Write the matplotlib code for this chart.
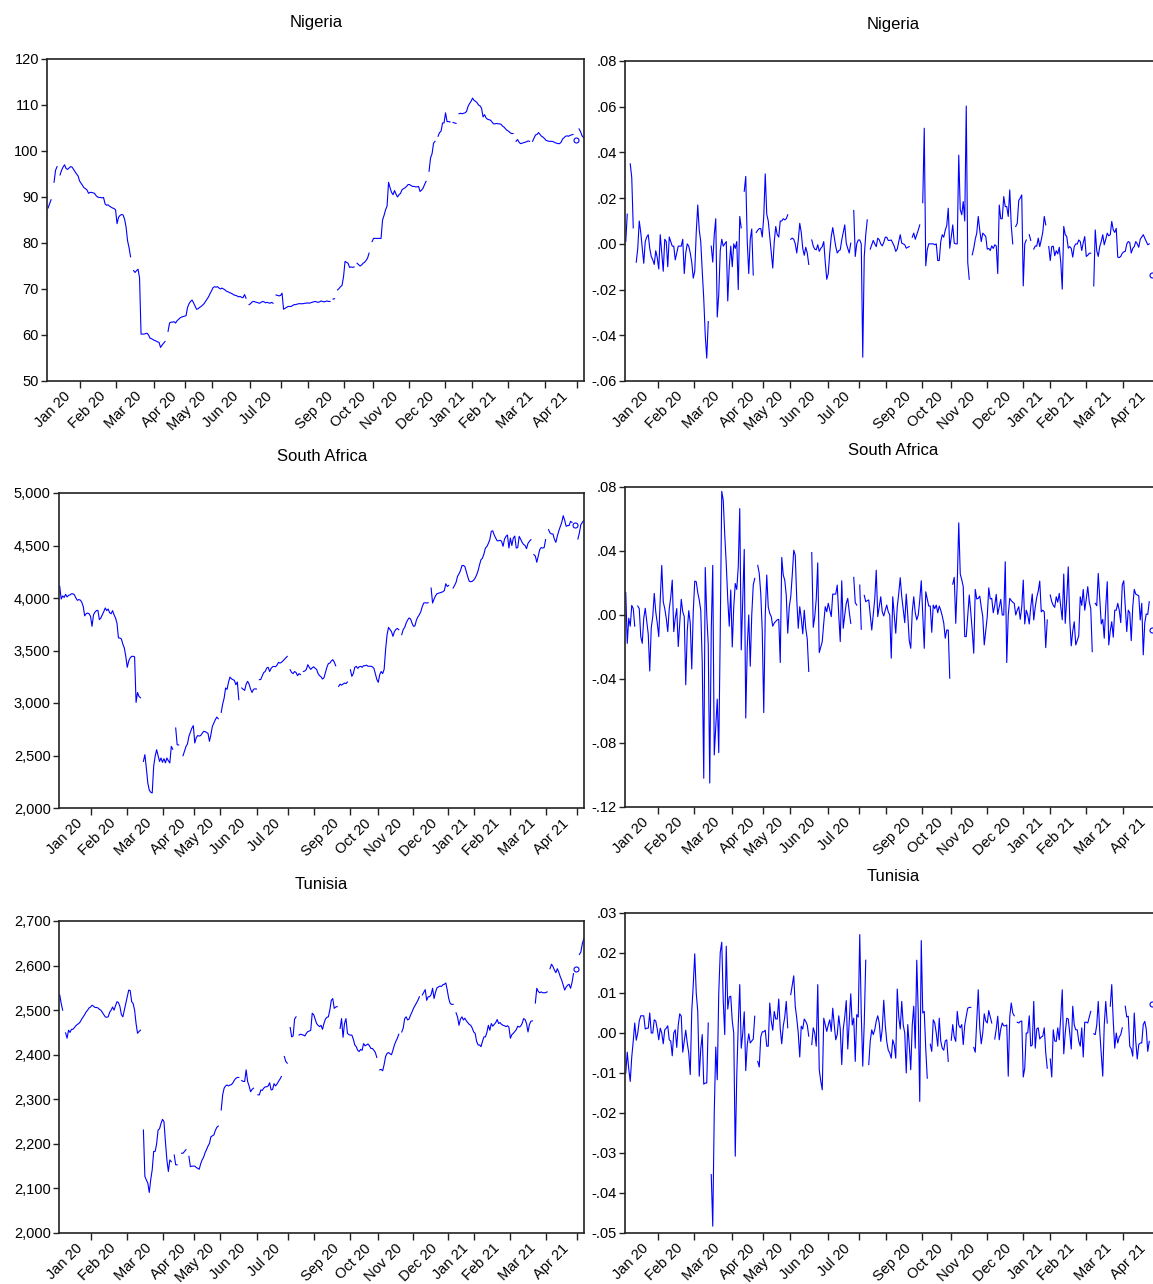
import matplotlib.pyplot as plt
import numpy as np
from matplotlib.ticker import FuncFormatter, MultipleLocator

nan = np.nan

# trading days in each month, Jan 2020 .. May 2021
month_len = [22, 24, 25, 21, 18, 25, 21, 18, 24, 19, 24, 24, 18, 24, 25, 21, 5]
month_lab = ['Jan 20', 'Feb 20', 'Mar 20', 'Apr 20', 'May 20', 'Jun 20', 'Jul 20', '',
             'Sep 20', 'Oct 20', 'Nov 20', 'Dec 20', 'Jan 21', 'Feb 21', 'Mar 21', 'Apr 21', '']

ng_level = [
    87.6, 88.5, 89.4, nan, 93.2, 95.8, 96.6, nan, 94.8, 95.8, 96.5, 97.0, 96.2, 96.0, 96.3, 96.6, 96.5, 96.0, 95.5, 95.0, 94.6, 93.5,
    93.0, 92.5, 92.0, 91.8, 91.5, 90.8, 91.0, 91.0, 90.9, 90.8, 90.3, 90.0, 89.9, 89.9, 89.8, 89.9, 88.5, 88.2, 88.3, 88.0, 87.8, 87.6, 87.5, 87.2,
    84.2, 85.6, 86.0, 86.2, 86.1, 85.2, 83.5, 80.5, 79.0, 77.0, nan, 74.0, 73.6, 74.0, 74.3, 72.4, 60.2, 60.2, 60.2, 60.3, 60.4, 60.0, 59.3, 59.2, 59.0,
    58.8, 58.7, 58.5, 58.4, 57.3, 57.8, 58.2, 58.6, nan, 60.8, 62.6, 62.8, 62.8, 62.9, 62.6, 63.1, 63.4, 63.7, 63.9, 64.0, 64.1,
    64.2, 66.0, 66.8, 67.3, 67.6, 67.0, 66.3, 65.6, 65.7, 66.0, 66.2, 66.5, 66.8, 67.3, 67.8, 68.3, 69.0, 69.6,
    70.3, 70.5, 70.4, 70.5, 70.2, 70.0, 70.2, 70.0, 69.8, 69.5, 69.4, 69.2, 69.1, 68.9, 68.7, 68.6, 68.5, 68.3, 68.4, 68.2, 68.1, 68.8, 68.0, nan, 66.6,
    66.8, 67.2, 67.3, 67.2, 67.1, 67.0, 66.9, 67.1, 67.3, 67.2, 67.0, 67.1, 67.0, 66.9, 67.1, 66.9, nan, 68.7, 68.6, 68.5, 68.6,
    69.1, 65.6, 65.8, 66.0, 66.2, 66.2, 66.2, 66.4, 66.6, 66.6, 66.7, 66.8, 66.8, 66.8, 66.8, 66.9, 66.9, 67.0,
    66.9, 67.0, 67.1, 67.2, 67.3, 67.2, 67.1, 67.2, 67.4, 67.3, 67.2, 67.3, 67.4, 67.3, 67.3, nan, 67.8, 67.9, nan, 69.8, 70.1, 70.5, 70.8, 72.7,
    76.0, 75.8, 75.6, 74.7, 74.8, 74.7, 74.8, nan, 75.6, 75.3, 75.0, 75.2, 75.6, 75.8, 76.2, 76.7, 77.8, nan, 80.3,
    81.0, 81.0, 81.0, 81.0, 81.0, 81.0, 85.0, 86.0, 87.2, 88.0, 93.2, 92.0, 91.0, 90.5, 91.4, 90.6, 90.0, 90.5, 90.8, 91.6, 91.8, 92.0, 92.3, 92.7,
    92.7, 92.5, 92.3, 92.3, 92.2, 92.2, 92.3, 91.2, 91.5, 91.9, 92.7, 93.4, nan, 95.6, 98.5, 99.4, 101.7, 102.1, nan, 103.2, 104.0, 104.3, 106.1, 106.1,
    108.3, 106.4, 106.4, 106.3, nan, 106.2, 106.1, 106.0, nan, 108.1, 108.2, 108.1, 108.2, 108.3, 108.6, 109.7, 110.3, 110.8,
    111.5, 111.0, 110.8, 110.5, 110.0, 109.8, 109.3, 107.4, 107.9, 107.2, 106.9, 106.8, 106.7, 106.3, 105.9, 105.9, 106.0, 105.9, 105.9, 105.8, 105.4, 105.2, 104.8, 104.5,
    104.3, 104.0, 103.8, 103.8, nan, 102.1, 102.5, 101.9, 101.6, 101.7, 101.8, 101.9, 102.0, 102.2, 102.1, nan, 102.1, 102.8, 103.5, 103.6, 104.0, 103.6, 103.2, 103.0, 102.7,
    102.3, 102.2, 102.1, 102.1, 102.1, 102.0, 101.8, 101.7, 101.6, 101.6, 101.9, 102.6, 102.9, 103.2, 103.3, 103.2, 103.4, 103.5, 103.6, nan, 102.3,
    nan, 104.8, 104.2, 103.3, 102.9,
]

ng_ret = [
    0.001, 0.013, nan, 0.035, 0.029, 0.007, nan, -0.008, -0.002, 0.010, 0.005, -0.002, -0.0085, 0.001, 0.003, 0.004, -0.002, -0.0055, -0.007, -0.009, -0.003, -0.006,
    -0.011, 0.004, -0.004, -0.012, 0.002, 0.001, -0.010, 0.003, 0.001, -0.001, -0.001, -0.007, -0.004, -0.001, -0.001, -0.001, 0.002, -0.013, -0.004, 0.000, -0.001, -0.004, -0.008, -0.015,
    -0.012, 0.005, 0.017, 0.006, 0.001, -0.012, -0.024, -0.040, -0.050, -0.034, nan, -0.001, -0.008, 0.004, 0.011, -0.032, -0.022, -0.003, 0.002, -0.001, 0.000, 0.001, -0.025, -0.010, -0.001,
    -0.010, 0.000, -0.002, 0.001, -0.020, 0.012, 0.007, nan, 0.023, 0.0295, 0.001, -0.013, 0.002, 0.0065, -0.0136, nan, 0.005, 0.006, 0.0067, 0.0067, 0.003,
    0.012, 0.0306, 0.013, 0.010, 0.003, -0.004, -0.0106, 0.001, 0.0076, 0.004, 0.003, 0.010, 0.010, 0.011, 0.0105, 0.011, 0.0127, nan,
    0.002, 0.0025, 0.002, 0.000, -0.004, 0.0015, 0.009, 0.005, -0.002, -0.005, -0.0015, -0.004, -0.009, nan, 0.0017, -0.001, -0.0023, -0.0026, -0.0004, -0.0033, -0.002, -0.0012, 0.001, -0.008, -0.0155,
    -0.013, -0.004, 0.0032, 0.0071, 0.003, -0.0012, -0.004, -0.003, -0.0026, 0.0017, 0.005, 0.0083, 0.0003, -0.002, -0.004, 0.0003, nan, 0.0146, -0.0055, 0.000, 0.0017,
    0.0017, 0.000, -0.0496, -0.0055, 0.004, 0.0105, nan, -0.0023, -0.0004, 0.0015, 0.000, -0.0012, 0.0025, 0.0018, 0.000, -0.0009, 0.0006, 0.0029,
    0.0029, 0.0015, 0.0015, 0.0017, 0.0003, -0.001, -0.0033, -0.0023, 0.001, 0.004, 0.0003, 0.000, -0.0004, -0.0019, -0.0015, -0.0012, nan, 0.0029, 0.0047, 0.002, 0.004, 0.006, 0.0083, nan,
    0.018, 0.0506, -0.0096, -0.0026, 0.000, 0.000, 0.000, 0.000, -0.0004, 0.000, -0.0073, -0.0073, 0.001, 0.004, 0.0029, 0.006, 0.008, 0.0156, -0.0019,
    0.003, 0.0083, 0.0003, 0.000, 0.000, 0.0388, 0.015, 0.0127, 0.0185, 0.010, 0.0603, -0.0082, -0.0155, nan, -0.0048, -0.0019, 0.002, 0.0047, 0.012, 0.006, 0.001, 0.0047, 0.004, 0.0032,
    -0.0023, -0.002, -0.0029, -0.0009, -0.002, -0.0004, -0.0009, -0.013, 0.017, 0.011, 0.011, 0.0207, 0.0163, 0.0163, 0.012, 0.0236, 0.008, 0.000, nan, 0.0076, 0.009, 0.019, 0.020, 0.0214,
    -0.0184, 0.000, 0.0017, nan, 0.004, 0.0015, nan, -0.0023, -0.0009, -0.001, 0.0025, -0.0012, 0.0017, 0.005, 0.012, 0.0083, nan, -0.0012,
    -0.0073, -0.0012, -0.001, -0.0052, -0.003, -0.0044, -0.0015, -0.008, -0.0198, 0.0076, 0.004, 0.0032, -0.0019, -0.0012, -0.002, -0.0058, -0.0012, 0.000, -0.0001, 0.0017, 0.001, -0.0029, 0.0005, 0.0032,
    -0.0055, -0.005, -0.0041, -0.0041, nan, -0.0184, 0.0061, -0.003, -0.0055, -0.0012, 0.001, 0.004, -0.0004, 0.002, 0.0047, 0.0035, 0.004, 0.0098, 0.0061, 0.005, 0.0068, -0.0058, -0.006, -0.0055, -0.0041,
    -0.0035, -0.0033, -0.0001, 0.001, 0.0006, -0.004, -0.002, -0.0012, 0.001, 0.000, -0.0015, 0.002, 0.003, 0.004, 0.0025, 0.001, -0.0004, 0.000, nan, -0.0136, nan,
    nan, nan, nan, nan, nan,
]

sa_level = [
    4110, 3990, 4020, 4005, 4035, 4010, 4025, 4030, 4040, 4040, 4030, 4000, 3978, 3985, 3980, 3960, 3920, 3830, 3850, 3857, 3850, 3825,
    3730, 3840, 3865, 3880, 3882, 3794, 3810, 3840, 3870, 3905, 3880, 3895, 3860, 3850, 3880, 3840, 3810, 3760, 3620, 3619, 3610, 3560, 3524, 3444,
    3340, 3400, 3430, 3444, 3445, 3440, 3006, 3100, 3063, 3050, nan, 2444, 2508, 2380, 2238, 2170, 2150, 2143, 2397, 2492, 2555, 2500, 2444, 2476, 2435,
    2470, 2430, 2476, 2450, 2429, 2587, 2560, nan, 2762, 2603, 2600, nan, nan, 2498, 2540, 2585, 2610, 2682, 2720, 2760, 2784,
    2619, 2670, 2690, 2685, 2690, 2710, 2730, 2728, 2720, 2710, 2635, 2700, 2778, 2810, 2841, 2866, 2850, nan,
    2911, 2990, 3047, 3143, 3130, 3200, 3247, 3230, 3222, 3215, 3174, 3200, 3032, nan, 3143, 3130, 3120, 3180, 3206, 3180, 3133, 3100, 3130, 3135, 3133,
    nan, 3222, 3225, 3260, 3290, 3301, 3333, 3340, 3300, 3330, 3345, 3349, 3345, 3360, 3387, 3380, 3387, 3400, 3415, 3430, 3444,
    nan, 3317, 3290, 3280, 3300, 3290, 3260, 3280, 3270, nan, 3300, 3305, 3320, 3365, 3340, 3320, 3335, 3345,
    3330, 3320, 3280, 3260, 3250, 3228, 3240, 3290, 3340, 3375, 3380, 3400, 3413, 3390, 3355, nan, 3158, 3180, 3170, 3180, 3190, 3185, 3200, nan,
    3317, 3254, 3280, 3340, 3349, 3330, 3345, 3349, 3340, 3355, 3355, 3360, 3350, 3350, 3350, 3345, 3330, 3280, 3225,
    3197, 3270, 3300, 3280, 3320, 3508, 3650, 3720, 3700, 3680, 3635, 3680, 3700, 3710, 3698, nan, 3651, 3700, 3720, 3762, 3790, 3810, 3800, 3760,
    3730, 3735, 3790, 3820, 3841, 3870, 3920, 3952, 3955, 3952, 3955, nan, 4095, 3952, 3990, 4020, 4041, 4045, 4050, 4054, 4060, 4070, 4136, 4110,
    4120, nan, nan, 4095, 4120, 4149, 4206, 4230, 4260, 4308, 4310, 4300, 4250, 4200, 4159, 4155, 4159, 4170,
    4190, 4220, 4260, 4317, 4365, 4380, 4420, 4476, 4490, 4520, 4556, 4635, 4640, 4600, 4571, 4545, 4545, 4550, 4540, 4492, 4560, 4587, 4600, 4476,
    4571, 4500, 4571, 4590, 4476, 4480, 4587, 4560, 4530, 4510, 4500, 4470, 4520, 4540, 4556, nan, 4413, 4400, 4340, 4400, 4460, 4480, 4476, 4480, 4556,
    nan, 4651, 4620, 4610, 4610, 4560, 4530, 4590, 4640, 4680, 4720, 4784, 4740, 4683, 4690, 4690, 4730, 4720, nan, 4698, nan,
    4562, 4620, 4698, 4720, 4740,
]

sa_ret = [
    0.014, -0.0177, -0.002, -0.007, 0.006, 0.004, -0.007, nan, 0.0056, 0.004, -0.0135, -0.0177, -0.002, 0.0042, -0.004, -0.012, -0.035, -0.008, -0.001, 0.0135, 0.002, -0.005,
    -0.0135, 0.010, 0.031, 0.0083, 0.004, -0.002, -0.0104, 0.004, 0.011, 0.0218, -0.0104, -0.002, 0.004, -0.0197, -0.005, 0.0098, 0.002, -0.001, -0.0436, -0.010, 0.0027, -0.005, -0.0337, 0.002,
    0.0212, 0.0208, 0.014, 0.0094, 0.003, -0.030, -0.102, 0.0297, 0.000, -0.0187, -0.105, -0.010, 0.031, -0.0875, -0.070, -0.0526, -0.086, -0.010, 0.0773, 0.0717, 0.050, 0.032, 0.010, -0.007, 0.0156,
    -0.020, 0.005, 0.0197, 0.016, 0.030, 0.0665, -0.0218, 0.010, 0.041, -0.0644, -0.020, 0.000, -0.032, 0.000, 0.0187, 0.0229, nan, 0.031, 0.026, 0.0135, -0.010,
    -0.061, 0.000, 0.025, 0.005, 0.001, -0.001, -0.007, -0.005, -0.004, -0.003, -0.0027, -0.0297, 0.036, 0.025, 0.0218, 0.0125, -0.0114, 0.005,
    0.0114, 0.025, 0.0405, 0.0374, 0.010, -0.0083, 0.0052, -0.002, -0.0118, 0.003, -0.0083, -0.015, -0.0353, nan, 0.039, -0.0077, -0.001, 0.010, 0.0326, -0.0235, -0.020, -0.0166, -0.005, 0.0052, 0.002,
    0.0073, 0.003, -0.001, 0.0131, 0.013, 0.0131, 0.0187, 0.000, -0.0166, 0.0214, -0.0083, 0.000, 0.0073, 0.0104, 0.002, -0.0052, nan, 0.0235, 0.0077, 0.0062, nan,
    0.0187, -0.0089, nan, 0.0123, 0.0083, 0.009, 0.0094, 0.000, -0.0094, 0.0004, 0.010, 0.028, -0.001, 0.005, 0.0114, 0.002, -0.0006, 0.003,
    0.0062, 0.002, 0.000, -0.027, 0.0114, 0.000, -0.0114, 0.005, 0.0135, 0.0233, 0.0114, 0.003, -0.0048, 0.0131, 0.000, -0.016, -0.0208, 0.002, 0.0114, 0.0014, -0.003, 0.000, 0.0094, 0.0214,
    0.000, -0.0208, 0.0145, 0.010, 0.0056, 0.0056, -0.0108, 0.0062, 0.004, 0.0062, 0.0014, 0.0056, 0.003, -0.0006, -0.005, -0.0145, -0.0094, -0.0094, -0.0395,
    nan, 0.0193, 0.0235, -0.0052, 0.020, 0.0576, 0.0256, 0.022, 0.0177, -0.0135, -0.0135, 0.000, 0.0125, 0.002, -0.010, -0.0239, 0.016, 0.010, 0.0104, 0.0118, 0.005, -0.001, -0.0187, -0.010,
    -0.001, 0.017, 0.010, 0.0104, 0.0014, 0.006, 0.0129, 0.0004, 0.005, 0.0098, 0.000, 0.000, 0.0333, -0.0297, 0.000, 0.0104, 0.009, 0.008, 0.0073, 0.000, 0.003, 0.0052, -0.0027, 0.005,
    0.0218, -0.0056, 0.003, 0.000, -0.0056, 0.005, 0.0131, -0.0031, 0.005, 0.011, 0.015, 0.0212, 0.002, 0.003, 0.002, -0.0204, -0.0031, nan,
    0.0125, 0.0083, 0.006, 0.0048, 0.0114, 0.008, 0.0135, 0.0052, -0.003, 0.0256, -0.0052, 0.010, 0.0301, -0.0031, -0.0193, -0.010, -0.0042, -0.0187, -0.016, -0.0131, 0.0114, 0.006, 0.016, 0.003,
    0.010, 0.0177, 0.0083, 0.004, -0.0229, nan, 0.0073, 0.0058, 0.026, 0.010, -0.0056, -0.0027, -0.0145, 0.005, 0.0208, -0.0187, -0.010, -0.0042, -0.0139, 0.003, 0.003, 0.0073, 0.003, -0.0048, 0.0187,
    0.0214, 0.005, -0.0104, 0.003, 0.0014, -0.016, 0.005, 0.016, 0.0131, 0.0125, 0.012, -0.0031, 0.0073, -0.0249, -0.005, 0.0006, 0.0004, 0.0083, nan, -0.0094, nan,
    nan, nan, nan, nan, nan,
]

tn_level = [
    2534, 2515, 2500, nan, 2449, 2437, 2455, 2450, 2457, 2457, 2461, 2465, 2468, 2470, 2474, 2480, 2485, 2490, 2496, 2500, 2505, 2507,
    2511, 2509, 2506, 2506, 2505, 2502, 2500, 2495, 2490, 2485, 2484, 2485, 2495, 2500, 2507, 2500, 2510, 2519, 2517, 2508, 2490, 2485, 2500, 2515,
    2530, 2545, 2544, 2519, 2515, 2500, 2470, 2448, 2452, 2455, nan, 2231, 2127, 2119, 2112, 2091, 2120, 2142, 2183, 2183, 2200, 2231, 2234, 2246, 2255,
    2250, 2205, 2164, 2138, 2164, 2160, nan, 2175, 2153, 2153, nan, nan, 2179, 2179, 2183, 2187, nan, 2172, 2149, 2150, 2150,
    2150, 2147, 2145, 2143, 2155, 2164, 2170, 2180, 2187, 2195, 2201, 2216, 2218, 2220, 2230, 2237, 2240, nan,
    2276, 2310, 2325, 2330, 2332, 2330, 2332, 2333, 2337, 2343, 2347, 2349, 2349, nan, 2342, 2340, 2340, 2366, 2340, 2330, 2317, 2322, 2325, nan, nan,
    2310, 2310, 2321, 2320, 2325, 2328, 2328, 2330, 2337, 2321, 2322, 2335, 2330, 2334, 2340, 2345, 2351, nan, 2396, 2385, 2381,
    nan, 2461, 2440, 2442, 2480, 2485, nan, 2444, 2446, 2445, 2444, 2442, 2448, 2452, 2453, 2455, 2493, 2490,
    2480, 2470, 2466, 2463, 2466, 2457, 2470, 2480, 2484, 2485, 2500, 2522, 2526, 2504, 2507, 2508, nan, 2459, 2481, 2439, 2470, 2481, 2448, 2445,
    2444, 2444, 2435, 2422, 2418, 2410, 2407, 2412, 2410, 2425, 2420, 2422, 2424, 2420, 2414, 2414, 2410, 2405, 2394,
    nan, 2366, 2367, 2364, 2378, 2396, 2403, 2405, 2402, 2400, 2410, 2422, 2430, 2437, 2446, nan, 2451, 2460, 2481, 2485, 2478, 2480, 2489, 2496,
    2504, 2510, 2516, 2522, 2530, nan, 2534, 2540, 2546, 2522, 2530, 2530, 2535, 2549, 2526, 2540, 2550, 2552, 2554, 2553, 2557, 2558, 2561, 2545,
    2526, 2515, 2513, 2513, nan, 2494, 2485, 2466, 2480, 2485, 2478, 2482, 2476, 2472, 2468, 2466, 2460, 2451,
    2448, 2430, 2422, 2422, 2418, 2430, 2440, 2440, 2450, 2466, 2455, 2470, 2464, 2468, 2472, 2479, 2470, 2472, 2468, 2466, 2465, 2463, 2465, 2462,
    2437, 2445, 2448, 2452, 2456, 2464, 2462, 2464, 2470, 2481, 2479, 2470, 2451, 2468, 2475, 2476, nan, 2516, 2549, 2542, 2539, 2541, 2539, 2539, 2539,
    2541, nan, 2593, 2603, 2598, 2590, 2584, 2593, 2585, 2575, 2567, 2556, 2545, 2552, 2556, 2558, 2549, 2562, 2582, nan, 2593,
    nan, 2625, 2630, 2649, 2660,
]

tn_ret = [
    -0.010, -0.0048, -0.009, -0.0121, -0.006, -0.002, 0.0025, -0.0018, 0.000, 0.003, 0.0043, 0.0043, 0.0043, 0.001, 0.0012, 0.0012, 0.005, 0.000, 0.000, 0.0033, 0.003, 0.001,
    -0.0017, 0.0012, 0.000, -0.0027, 0.0008, 0.0012, 0.0018, -0.0017, -0.002, -0.0057, 0.000, 0.0008, -0.0036, 0.002, 0.0048, 0.0042, -0.0048, -0.002, 0.0007, -0.0025, -0.005, -0.0104, 0.0054, 0.012,
    0.0198, 0.010, 0.0054, -0.0108, -0.004, -0.0004, -0.0128, -0.0125, -0.0125, 0.0025, nan, -0.0354, -0.0483, -0.020, -0.0035, -0.0117, 0.010, 0.0202, 0.0227, 0.008, -0.0004, 0.0217, 0.006, 0.009, 0.0092,
    0.003, 0.000, -0.0308, -0.0108, 0.002, 0.0121, -0.0038, 0.000, 0.0053, -0.0094, -0.003, -0.0002, -0.0025, -0.002, -0.0015, 0.0042, nan, -0.0071, -0.0085, -0.001, 0.0003,
    0.0003, 0.0007, -0.0033, -0.0033, 0.0075, 0.003, 0.0007, 0.0054, 0.0035, 0.0035, 0.0085, 0.001, -0.0027, 0.0017, 0.004, 0.0079, 0.0013, nan,
    0.0096, 0.012, 0.0143, 0.0067, 0.0037, 0.000, -0.006, 0.0017, 0.001, 0.0035, 0.0029, 0.002, -0.0008, nan, -0.0029, 0.0013, 0.000, -0.0033, 0.0121, -0.0092, -0.012, -0.0142, 0.0037, 0.002, 0.0004,
    0.002, 0.0033, 0.0004, 0.0062, 0.002, -0.0017, -0.0004, 0.0043, 0.001, -0.0079, 0.001, 0.004, 0.0081, -0.004, 0.003, 0.0098, 0.002, 0.0037, -0.0071, 0.0046, 0.004,
    0.0246, 0.005, -0.0083, 0.0025, 0.0182, nan, -0.0079, -0.002, 0.0008, -0.0004, 0.0008, 0.003, 0.0043, 0.0025, -0.0021, 0.001, 0.0082, 0.002,
    -0.0021, -0.0043, -0.005, -0.0063, -0.0017, -0.003, -0.0063, 0.011, 0.004, 0.001, 0.0079, 0.002, 0.000, -0.010, 0.0021, -0.003, -0.0092, 0.002, 0.0067, -0.0038, 0.0182, 0.005, -0.0171, 0.0231,
    0.005, 0.0054, -0.004, -0.0113, nan, -0.0028, -0.0046, 0.0033, 0.0025, 0.000, -0.0033, 0.0037, -0.002, -0.0038, -0.0043, -0.002, -0.0017, -0.0071, nan,
    -0.0018, 0.0021, -0.001, -0.0021, 0.0054, 0.002, 0.0013, 0.0021, -0.0029, 0.002, 0.0042, 0.0062, 0.0064, 0.0064, nan, -0.0036, -0.0048, 0.003, 0.0108, 0.0013, -0.0027, 0.000, 0.0048, 0.003,
    0.0025, 0.0056, 0.004, 0.0025, nan, -0.0015, 0.001, 0.0042, -0.0017, 0.001, 0.0025, 0.0018, 0.0018, 0.002, -0.0108, 0.004, 0.0075, 0.005, 0.0043, nan, 0.0027, 0.0025, 0.0029, 0.003,
    -0.011, -0.0088, 0.000, 0.000, 0.0043, -0.0033, -0.003, 0.0079, -0.0038, 0.001, 0.0013, -0.0015, -0.001, -0.0008, 0.0013, -0.005, -0.0088, nan,
    -0.0065, -0.011, 0.0008, -0.002, -0.0021, 0.0013, -0.0017, 0.004, 0.0108, -0.0052, 0.000, 0.0037, 0.0035, 0.000, -0.004, 0.0067, 0.002, 0.0008, 0.0008, -0.002, -0.0033, 0.0013, -0.006, 0.0027,
    0.0027, 0.0025, 0.004, 0.0054, nan, -0.0002, -0.0004, 0.002, 0.0079, 0.0004, -0.005, -0.0108, 0.002, 0.0079, 0.0025, nan, 0.0067, 0.0121, 0.003, -0.0038, 0.000, -0.0025, -0.001, -0.0004, 0.0013,
    nan, 0.0067, 0.004, 0.0042, -0.0033, -0.004, -0.0058, 0.005, -0.002, -0.0065, -0.0029, -0.0025, -0.0025, 0.0021, 0.0029, 0.001, -0.0046, -0.0021, nan, 0.0073, nan,
    nan, nan, nan, nan, nan,
]

plt.rcParams['font.family'] = ['Liberation Sans', 'DejaVu Sans']

bounds = np.concatenate([[0], np.cumsum(month_len)])
n_obs = bounds[-1]
mids = (bounds[:-1] + bounds[1:]) / 2 - 0.5

W, H = 1153, 1284
fig = plt.figure(figsize=(W / 100, H / 100), dpi=100)


def fmt_int(v, pos):
    return f'{v:.0f}'


def fmt_comma(v, pos):
    return f'{v:,.0f}'


def fmt_ret(v, pos):
    v = round(v, 4)
    if abs(v) < 1e-9:
        v = 0.0
    return f'{v:.2f}'.replace('0.', '.', 1)


def add_panel(rect, vals, title, ylim, step, fmt):
    x0, x1, top, bottom = rect
    ax = fig.add_axes([x0 / W, 1 - bottom / H, (x1 - x0) / W, (bottom - top) / H])
    y = np.array(vals, dtype=float)
    x = np.arange(len(y))
    ax.plot(x, y, color='#0000ff', lw=0.8)
    # single observations between gaps are drawn as small rings
    prev = np.r_[nan, y[:-1]]
    nxt = np.r_[y[1:], nan]
    lone = np.isfinite(y) & np.isnan(prev) & np.isnan(nxt)
    ax.plot(x[lone], y[lone], 'o', ms=3.6, mfc='none', mec='#0000ff', mew=0.8)

    ax.set_xlim(-0.5, n_obs - 0.5)
    ax.set_ylim(*ylim)
    ax.yaxis.set_major_locator(MultipleLocator(step))
    ax.yaxis.set_major_formatter(FuncFormatter(fmt))
    ax.set_xticks(bounds[1:-1] - 0.5)
    ax.set_xticklabels([])
    ax.set_xticks(mids, minor=True)
    ax.set_xticklabels(month_lab, minor=True, rotation=45, ha='right', va='top',
                       rotation_mode='anchor')
    ax.tick_params(axis='x', which='major', length=5, width=1, direction='out', color='#222222')
    ax.tick_params(axis='x', which='minor', length=0, pad=6, labelsize=10.5)
    ax.tick_params(axis='y', length=4, width=1, labelsize=10.5, pad=2, color='#222222')
    for s in ax.spines.values():
        s.set_linewidth(1.2)
        s.set_color('#222222')
    ax.annotate(title, xy=(0.5, 1), xycoords='axes fraction', xytext=(0, 26),
                textcoords='offset points', ha='center', va='center', fontsize=12)
    return ax


add_panel((47.3, 584.3, 59, 381), ng_level, 'Nigeria', (50, 120), 10, fmt_int)
add_panel((625, 1162, 61, 381), ng_ret, 'Nigeria', (-0.06, 0.08), 0.02, fmt_ret)
add_panel((59, 584.5, 493, 808), sa_level, 'South Africa', (2000, 5000), 500, fmt_comma)
add_panel((625, 1162, 487, 807), sa_ret, 'South Africa', (-0.12, 0.08), 0.04, fmt_ret)
add_panel((59, 584.5, 921, 1233), tn_level, 'Tunisia', (2000, 2700), 100, fmt_comma)
add_panel((625, 1162, 913, 1233), tn_ret, 'Tunisia', (-0.05, 0.03), 0.01, fmt_ret)

fig.savefig('out.png', dpi=100, facecolor='white')
